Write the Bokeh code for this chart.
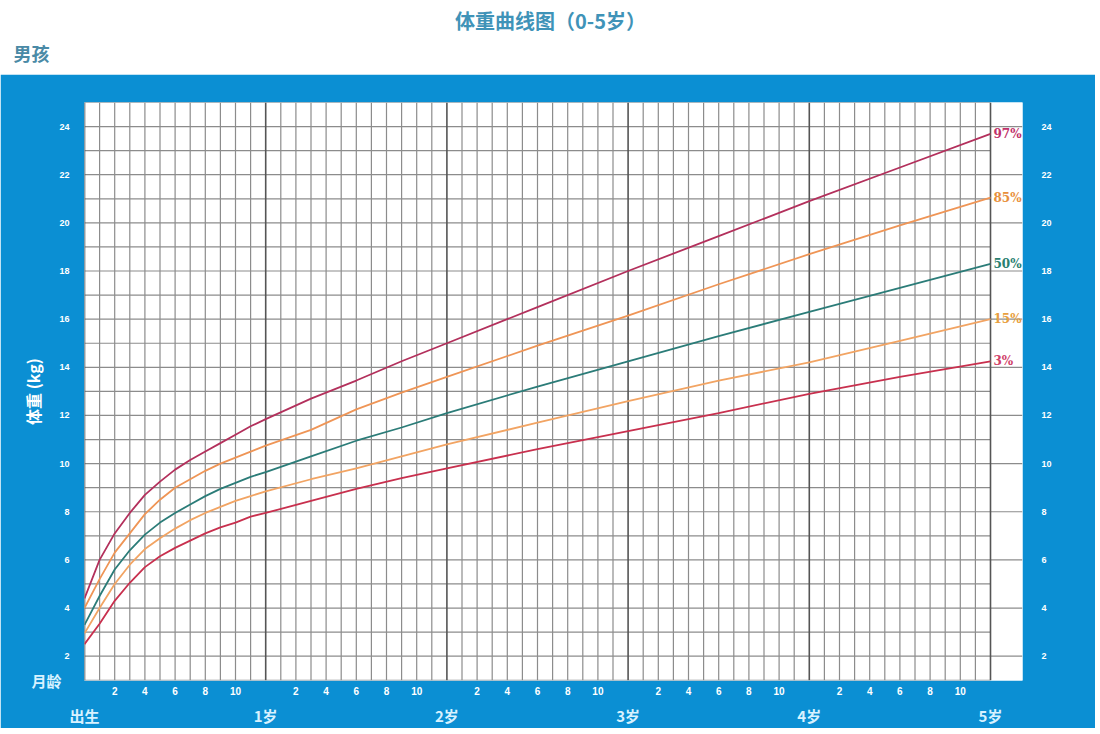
from bokeh.plotting import figure
from bokeh.models import Range1d, LinearAxis, FixedTicker, Label
from bokeh.layouts import column
from bokeh.core.properties import value
from bokeh.embed import file_html
from bokeh.resources import INLINE

# ---- data ----
months = [0, 1, 2, 3, 4, 5, 6, 7, 8, 9, 10, 11, 12, 15, 18, 21, 24, 30, 36, 42, 48, 54, 60]
p97 = [4.4, 6.0, 7.1, 7.95, 8.7, 9.25, 9.75, 10.15, 10.5, 10.85, 11.2, 11.55, 11.85, 12.7, 13.45, 14.25, 15.0, 16.5, 18.0, 19.45, 20.9, 22.3, 23.7]
p85 = [4.0, 5.2, 6.3, 7.1, 7.9, 8.5, 9.0, 9.35, 9.7, 10.0, 10.25, 10.5, 10.75, 11.4, 12.25, 12.95, 13.6, 14.9, 16.15, 17.45, 18.7, 19.9, 21.05]
p50 = [3.3, 4.5, 5.6, 6.4, 7.05, 7.55, 7.95, 8.3, 8.65, 8.95, 9.2, 9.45, 9.65, 10.3, 10.95, 11.5, 12.1, 13.2, 14.25, 15.3, 16.3, 17.3, 18.3]
p15 = [2.95, 4.0, 5.0, 5.8, 6.45, 6.9, 7.3, 7.65, 7.95, 8.2, 8.45, 8.65, 8.85, 9.35, 9.8, 10.3, 10.8, 11.7, 12.6, 13.45, 14.2, 15.1, 16.0]
p3 = [2.5, 3.35, 4.3, 5.05, 5.7, 6.15, 6.5, 6.8, 7.1, 7.35, 7.55, 7.8, 7.95, 8.45, 8.95, 9.4, 9.8, 10.6, 11.35, 12.1, 12.9, 13.6, 14.25]

series_names = ["97%", "85%", "50%", "15%", "3%"]
series_values = [p97, p85, p50, p15, p3]
line_colors = ["#b3305c", "#ef9556", "#2b7c78", "#f2a463", "#c8304e"]
label_colors = ["#c0306a", "#e8903c", "#2a8070", "#e8a040", "#d04068"]

y_ticks = [2, 4, 6, 8, 10, 12, 14, 16, 18, 20, 22, 24]
month_ticks = [m for m in range(0, 61) if m % 12 in (2, 4, 6, 8, 10)]
month_labels = [str(m % 12) for m in month_ticks]
year_ticks = [0, 12, 24, 36, 48, 60]
year_labels = ["出生", "1岁", "2岁", "3岁", "4岁", "5岁"]

TITLE = "体重曲线图（0-5岁）"
SUBTITLE = "男孩"
Y_LABEL = "体重 (kg)"
X_LABEL = "月龄"

BLUE = "#0b8fd3"
CJK = "Noto Sans CJK SC"

W = 1095
LEFT, FRAME_W = 84, 938
RIGHT = W - LEFT - FRAME_W
TOP_H = 74

# ---- top header (white) ----
top = figure(width=W, height=TOP_H, x_range=Range1d(0, 1), y_range=Range1d(0, TOP_H),
             toolbar_location=None, output_backend="svg", x_axis_type=None, y_axis_type=None,
             min_border_left=LEFT, min_border_right=RIGHT, min_border_top=0, min_border_bottom=0,
             outline_line_color=None, background_fill_color="white",
             border_fill_color="white")
top.grid.visible = False
top.add_layout(Label(x=550 - LEFT, y=TOP_H - 20, x_units="screen", y_units="screen", text=TITLE,
                     text_font=CJK, text_font_size="20px", text_font_style="bold",
                     text_color="#3f93b8", text_align="center", text_baseline="middle"))
sub_axis = LinearAxis(ticker=FixedTicker(ticks=[TOP_H - 52]),
                      major_label_overrides={TOP_H - 52: SUBTITLE})
sub_axis.axis_line_color = None
sub_axis.major_tick_line_color = None
sub_axis.minor_tick_line_color = None
sub_axis.major_label_text_font = CJK
sub_axis.major_label_text_font_size = "18px"
sub_axis.major_label_text_font_style = "bold"
sub_axis.major_label_text_color = "#4a8aa6"
sub_axis.major_label_standoff = 29
top.add_layout(sub_axis, "left")

# ---- main chart ----
XMAX = 60 * FRAME_W / 906
p = figure(width=W, height=654, x_range=Range1d(0, XMAX), y_range=Range1d(0.99, 25),
           toolbar_location=None, output_backend="svg", x_axis_type=None, y_axis_type=None,
           min_border_left=LEFT, min_border_right=RIGHT, min_border_top=28, min_border_bottom=47,
           background_fill_color="white", border_fill_color=BLUE, outline_line_color=None)
p.grid.visible = False

# grid lines
vx = list(range(0, 61))
minor_v = [m for m in vx if m % 12 != 0]
major_v = [m for m in vx if m % 12 == 0]
p.segment(x0=minor_v, y0=[1] * len(minor_v), x1=minor_v, y1=[25] * len(minor_v),
          line_color="#8c8c8c", line_width=1.2)
hy = list(range(1, 26))
odd_h = [k for k in hy if k % 2 == 1]
even_h = [k for k in hy if k % 2 == 0]
p.segment(x0=[0] * len(odd_h), y0=odd_h, x1=[60] * len(odd_h), y1=odd_h,
          line_color="#8c8c8c", line_width=1.2)
p.segment(x0=[0] * len(even_h), y0=even_h, x1=[XMAX] * len(even_h), y1=even_h,
          line_color="#8c8c8c", line_width=1.2)
p.segment(x0=major_v, y0=[1] * len(major_v), x1=major_v, y1=[25] * len(major_v),
          line_color="#555555", line_width=1.6)

# percentile curves
for name, vals, col in zip(series_names, series_values, line_colors):
    p.line(x=months, y=vals, line_color=col, line_width=1.8)

end_x = [months[-1]] * len(series_names)
end_y = [v[-1] for v in series_values]
p.text(x=end_x, y=end_y, text=series_names, text_color=label_colors, x_offset=3,
       text_font=value("DejaVu Serif"), text_font_size="12px", text_font_style="bold",
       text_align="left", text_baseline="middle")

# axes
def plain(ax):
    ax.axis_line_color = None
    ax.major_tick_line_color = None
    ax.minor_tick_line_color = None

def style_y(ax, standoff):
    ax.ticker = FixedTicker(ticks=y_ticks)
    plain(ax)
    ax.major_label_text_color = "white"
    ax.major_label_text_font_size = "9px"
    ax.major_label_text_font_style = "bold"
    ax.major_label_standoff = standoff

ly = LinearAxis()
style_y(ly, 9)
p.add_layout(ly, "left")

# outer left axis: "月龄" at the bottom edge, plus the y axis title
oy = LinearAxis(ticker=FixedTicker(ticks=[1]), major_label_overrides={1: X_LABEL})
plain(oy)
oy.major_label_text_font = CJK
oy.major_label_text_font_size = "15px"
oy.major_label_text_font_style = "bold"
oy.major_label_text_color = "#d8f2ff"
oy.major_label_standoff = -11
oy.axis_label = Y_LABEL
oy.axis_label_text_font = CJK
oy.axis_label_text_font_size = "16px"
oy.axis_label_text_font_style = "bold"
oy.axis_label_text_color = "white"
oy.axis_label_standoff = -17
p.add_layout(oy, "left")

ry = LinearAxis()
style_y(ry, 13)
p.add_layout(ry, "right")

mx = LinearAxis(ticker=FixedTicker(ticks=month_ticks),
                major_label_overrides={m: l for m, l in zip(month_ticks, month_labels)})
plain(mx)
mx.major_label_text_color = "white"
mx.major_label_text_font_size = "10px"
mx.major_label_text_font_style = "bold"
mx.major_label_standoff = 0
p.add_layout(mx, "below")

yx = LinearAxis(ticker=FixedTicker(ticks=year_ticks),
                major_label_overrides={m: l for m, l in zip(year_ticks, year_labels)})
plain(yx)
yx.major_label_text_color = "#d8f2ff"
yx.major_label_text_font = CJK
yx.major_label_text_font_size = "15px"
yx.major_label_text_font_style = "bold"
yx.major_label_standoff = 1
p.add_layout(yx, "below")

layout = column(top, p, spacing=0)
open("out.html", "w").write(file_html(layout, INLINE))
